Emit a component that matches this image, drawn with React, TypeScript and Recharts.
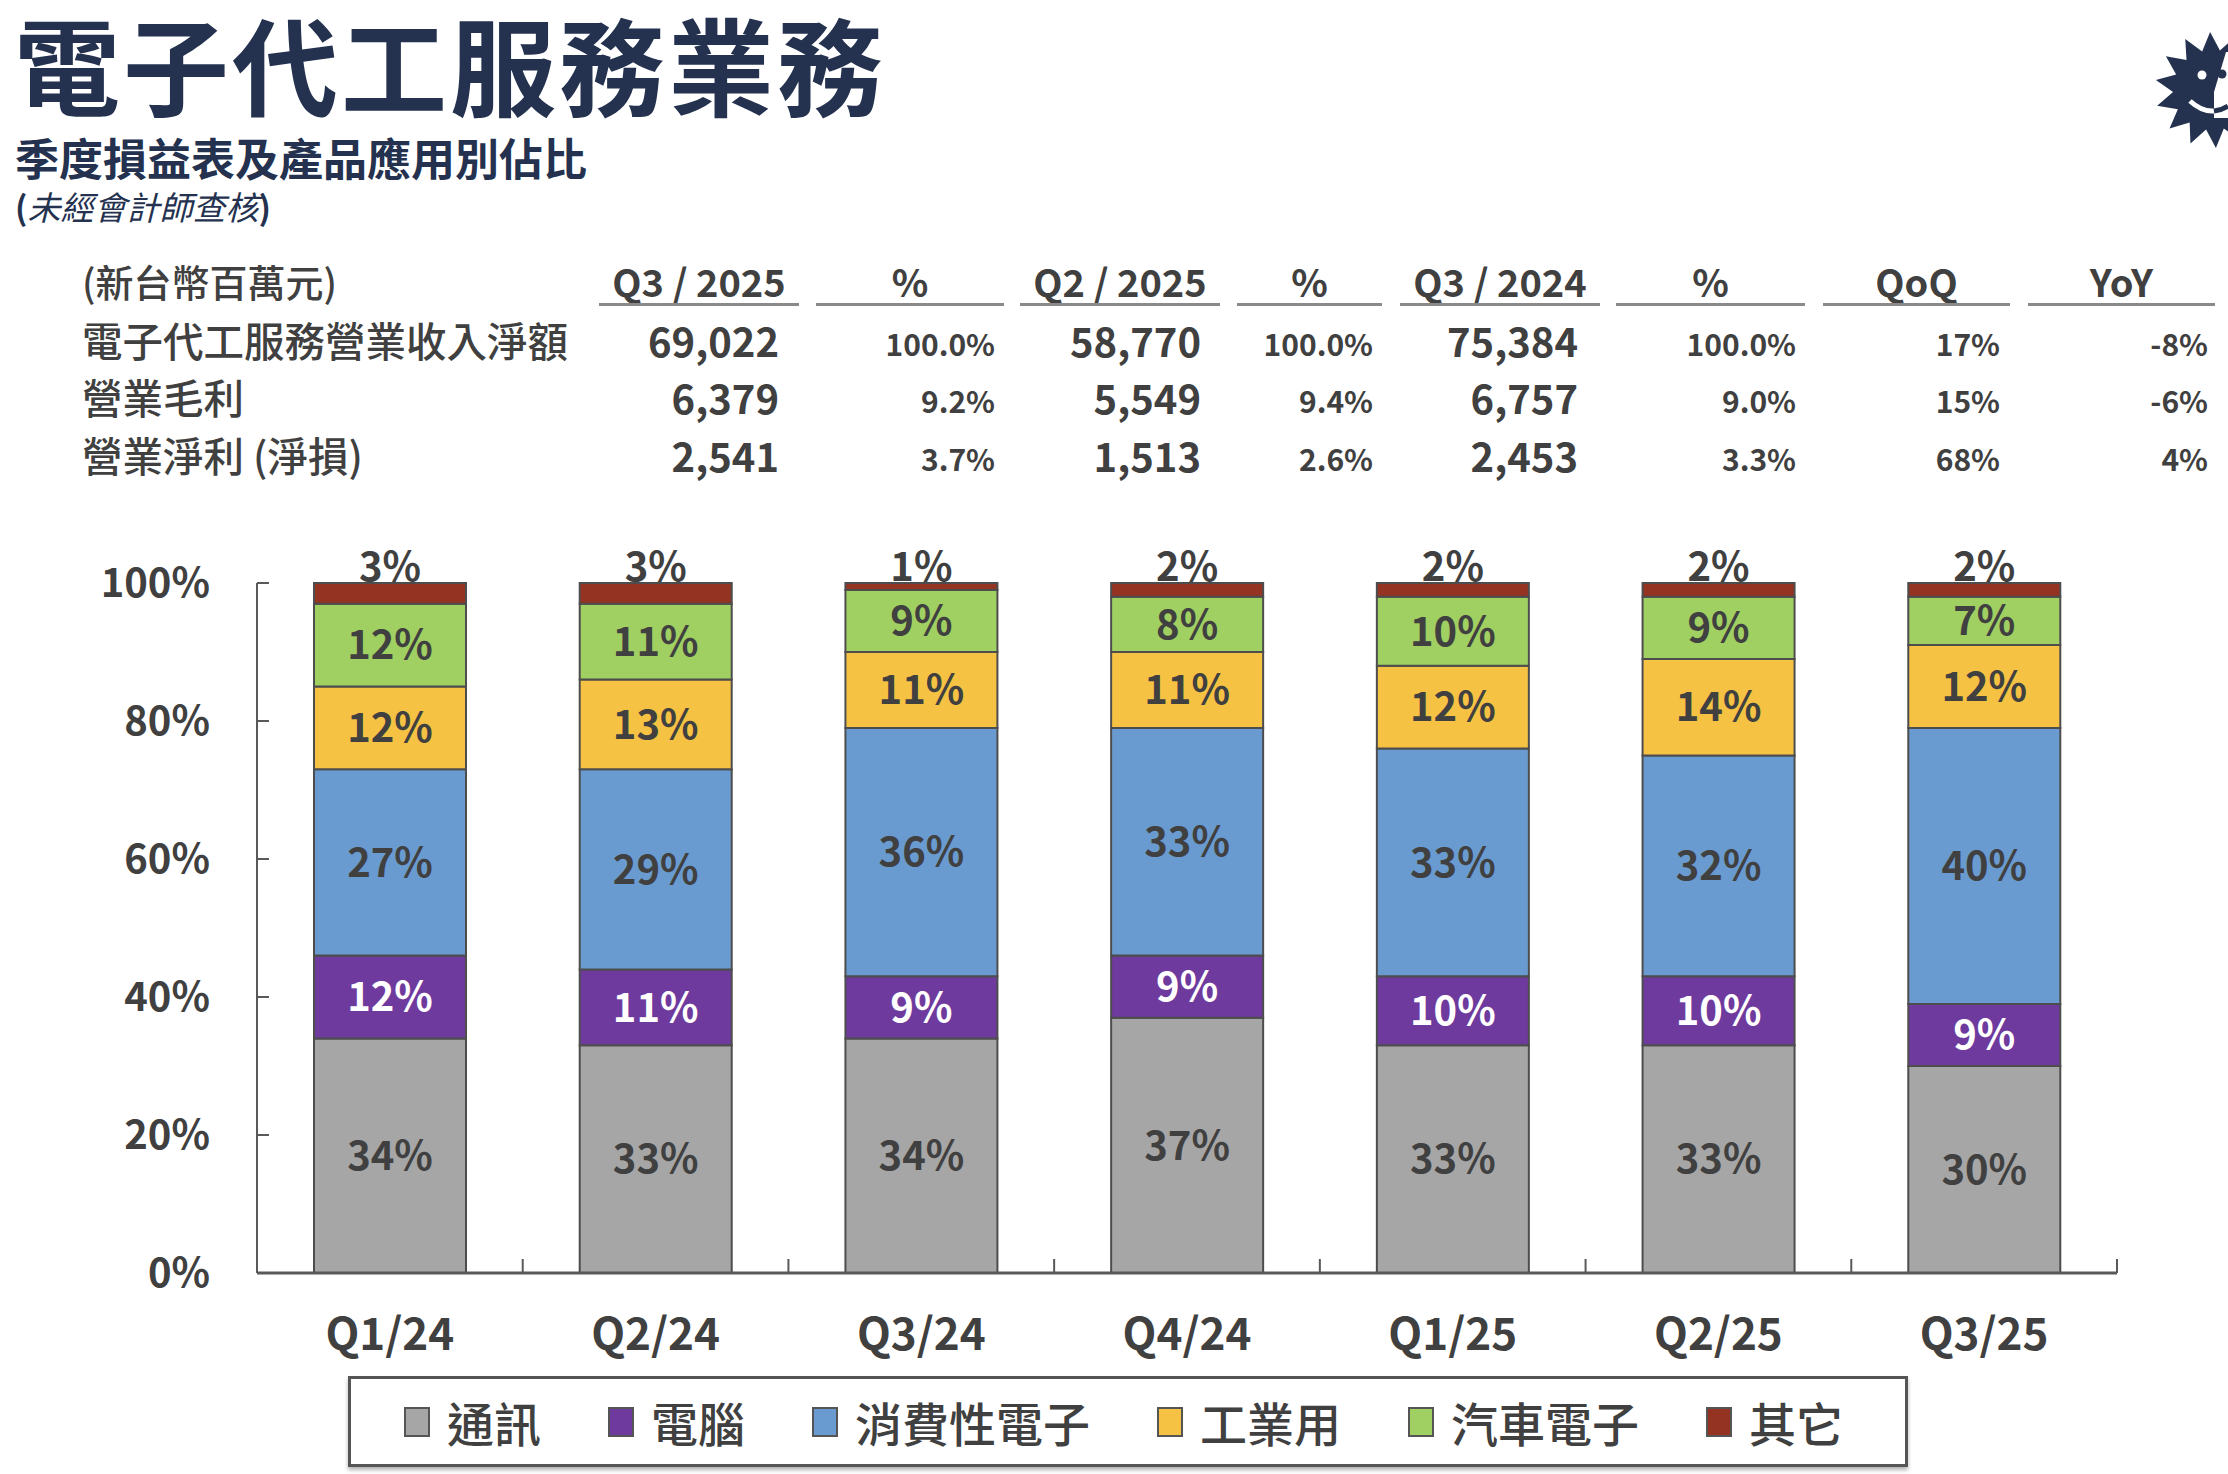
import React from "react";
import { BarChart, Bar, XAxis, YAxis, LabelList } from "recharts";

// product mix by quarter (% of EMS revenue), bottom to top of each stack
const quarters = ["Q1/24", "Q2/24", "Q3/24", "Q4/24", "Q1/25", "Q2/25", "Q3/25"];
const telecom = [34, 33, 34, 37, 33, 33, 30];
const computer = [12, 11, 9, 9, 10, 10, 9];
const consumer = [27, 29, 36, 33, 33, 32, 40];
const industrial = [12, 13, 11, 11, 12, 14, 12];
const automotive = [12, 11, 9, 8, 10, 9, 7];
const others = [3, 3, 1, 2, 2, 2, 2];

const seriesKeys = ["telecom", "computer", "consumer", "industrial", "automotive", "others"];
const seriesNames = ["通訊", "電腦", "消費性電子", "工業用", "汽車電子", "其它"];
const seriesColors = ["#A6A6A6", "#6E3A9E", "#6A9BD0", "#F6C243", "#A0CF62", "#953322"];
const seriesValues = [telecom, computer, consumer, industrial, automotive, others];

const yTicks = [0, 20, 40, 60, 80, 100];

// quarterly P&L table
const unitLabel = "(新台幣百萬元)";
const tableHeaders = ["Q3 / 2025", "%", "Q2 / 2025", "%", "Q3 / 2024", "%", "QoQ", "YoY"];
const rowLabels = ["電子代工服務營業收入淨額", "營業毛利", "營業淨利 (淨損)"];
const revenueRow = ["69,022", "100.0%", "58,770", "100.0%", "75,384", "100.0%", "17%", "-8%"];
const grossProfitRow = ["6,379", "9.2%", "5,549", "9.4%", "6,757", "9.0%", "15%", "-6%"];
const operatingIncomeRow = ["2,541", "3.7%", "1,513", "2.6%", "2,453", "3.3%", "68%", "4%"];
const tableRows = [revenueRow, grossProfitRow, operatingIncomeRow];

const FONT = "'Noto Sans CJK TC', 'Noto Sans', sans-serif";
const NAVY = "#24324F";
const TEXT = "#404040";
const AXIS = "#595959";

// column frames: underline span and right edge of the figures
const columns = [
  { l: 599, r: 799, textR: 779 },
  { l: 816, r: 1004, textR: 995 },
  { l: 1020, r: 1220, textR: 1201 },
  { l: 1237, r: 1382, textR: 1373 },
  { l: 1400, r: 1600, textR: 1578 },
  { l: 1616, r: 1805, textR: 1796 },
  { l: 1823, r: 2010, textR: 2000 },
  { l: 2028, r: 2215, textR: 2208 },
];
const rowY = [340, 397, 455];
const bigCols = [0, 2, 4];

const X_TICK_MARGIN = 46;

const data = quarters.map((quarter, i) => {
  const row: Record<string, string | number> = { quarter };
  seriesKeys.forEach((k, s) => {
    row[k] = seriesValues[s][i];
  });
  return row;
});

// quarter label plus the short upward marks between categories
const QuarterTick = (props: any) => {
  const { x, y, payload, index, visibleTicksCount, width } = props;
  const half = payload && payload.offset ? payload.offset : width / visibleTicksCount / 2;
  const axisY = y - X_TICK_MARGIN;
  return (
    <g>
      <line x1={x - half} x2={x - half} y1={axisY} y2={axisY - 14} stroke={AXIS} strokeWidth={2} />
      {index === visibleTicksCount - 1 && (
        <line x1={x + half} x2={x + half} y1={axisY} y2={axisY - 14} stroke={AXIS} strokeWidth={2} />
      )}
      <text x={x} y={y} dy="0.71em" textAnchor="middle" fill={TEXT} fontSize={44} fontWeight={700}>
        {payload.value}
      </text>
    </g>
  );
};

const Logo = () => (
  <svg width={90} height={140} style={{ position: "absolute", left: 2138, top: 20 }} viewBox="2138 20 90 140">
    <polygon
      fill={NAVY}
      points={Array.from({ length: 28 }, (_, i) => {
        const a = (Math.PI * 2 * i) / 28 - Math.PI / 2 - 0.05;
        const r = i % 2 === 0 ? 58 : 40;
        return `${2213 + r * Math.cos(a)},${90 + r * Math.sin(a)}`;
      }).join(" ")}
    />
    <polygon fill="#ffffff" points="2226,52 2228,52 2228,118 2214,118 2214,92" />
    <circle cx={2202} cy={75} r={4.5} fill="#ffffff" />
    <circle cx={2222} cy={74} r={4.5} fill={NAVY} />
    <path d="M2190,101 Q2202,112 2214,111" stroke="#ffffff" strokeWidth={5} fill="none" />
    <path d="M2214,111 Q2222,110 2228,106" stroke={NAVY} strokeWidth={5} fill="none" />
  </svg>
);

const Header = () => (
  <>
    <div style={{ position: "absolute", left: 14, top: 0, fontSize: 106, fontWeight: 700, color: NAVY, lineHeight: "124px", letterSpacing: 3, whiteSpace: "nowrap" }}>
      電子代工服務業務
    </div>
    <div style={{ position: "absolute", left: 15, top: 132, fontSize: 44, fontWeight: 700, color: NAVY, lineHeight: "50px", whiteSpace: "nowrap" }}>
      季度損益表及產品應用別佔比
    </div>
    <div style={{ position: "absolute", left: 15, top: 186, fontSize: 33, color: NAVY, lineHeight: "40px", whiteSpace: "nowrap" }}>
      <span style={{ fontWeight: 700 }}>(</span>
      <span style={{ fontStyle: "italic" }}>未經會計師查核</span>
      <span style={{ fontWeight: 700 }}>)</span>
    </div>
  </>
);

const Table = () => (
  <>
    <div style={{ position: "absolute", left: 82, top: 281 - 26, fontSize: 38, fontWeight: 500, color: TEXT, lineHeight: "52px", whiteSpace: "nowrap" }}>
      {unitLabel}
    </div>
    {tableHeaders.map((h, c) => (
      <React.Fragment key={h + c}>
        <div
          style={{
            position: "absolute",
            left: columns[c].l,
            width: columns[c].r - columns[c].l,
            top: 281 - 26,
            textAlign: "center",
            fontSize: 38,
            fontWeight: 700,
            color: TEXT,
            lineHeight: "52px",
            whiteSpace: "nowrap",
          }}
        >
          {h}
        </div>
        <div style={{ position: "absolute", left: columns[c].l, width: columns[c].r - columns[c].l, top: 303, height: 3, background: "#8A8A8A" }} />
      </React.Fragment>
    ))}
    {rowLabels.map((label, r) => (
      <React.Fragment key={label}>
        <div style={{ position: "absolute", left: 82, top: rowY[r] - 26, fontSize: 40.5, fontWeight: 500, color: TEXT, lineHeight: "52px", whiteSpace: "nowrap" }}>
          {label}
        </div>
        {tableRows[r].map((v, c) => (
          <div
            key={c}
            style={{
              position: "absolute",
              left: columns[c].textR - 300,
              width: 300,
              top: rowY[r] - 26 + (bigCols.includes(c) ? 0 : 3),
              textAlign: "right",
              fontSize: bigCols.includes(c) ? 40 : 30,
              fontWeight: 700,
              color: TEXT,
              lineHeight: "52px",
              whiteSpace: "nowrap",
            }}
          >
            {v}
          </div>
        ))}
      </React.Fragment>
    ))}
  </>
);

const Legend = () => (
  <div
    style={{
      position: "absolute",
      left: 348,
      top: 1376,
      width: 1560,
      height: 91,
      boxSizing: "border-box",
      border: "3px solid #555",
      boxShadow: "0 3px 4px rgba(0,0,0,0.3)",
      background: "#fff",
      display: "flex",
      alignItems: "center",
      flexWrap: "nowrap",
      paddingLeft: 53,
    }}
  >
    {seriesNames.map((name, i) => (
      <div key={name} style={{ display: "flex", alignItems: "center", marginRight: 67, flexShrink: 0, whiteSpace: "nowrap" }}>
        <div style={{ width: 26, height: 30, background: seriesColors[i], border: "2px solid #555", boxSizing: "border-box", marginRight: 17, flexShrink: 0 }} />
        <span style={{ fontSize: 47, fontWeight: 500, color: TEXT, lineHeight: "60px" }}>{name}</span>
      </div>
    ))}
  </div>
);

const App = () => {
  return (
    <div style={{ position: "absolute", left: 0, top: 0, width: 2228, height: 1474, background: "#fff", fontFamily: FONT, overflow: "hidden" }}>
      <Header />
      <Logo />
      <Table />
      <div style={{ position: "absolute", left: 0, top: 500 }}>
        <BarChart width={2228} height={875} data={data} margin={{ top: 83, right: 111, bottom: 0, left: 0 }} barSize={152}>
          <XAxis
            dataKey="quarter"
            height={102}
            interval={0}
            tickLine={false}
            tickSize={0}
            tickMargin={X_TICK_MARGIN}
            axisLine={{ stroke: AXIS, strokeWidth: 3 }}
            tick={<QuarterTick />}
          />
          <YAxis
            domain={[0, 100]}
            ticks={yTicks}
            interval={0}
            width={257}
            tickFormatter={(v) => `${v}%`}
            tickSize={-12}
            tickMargin={59}
            axisLine={{ stroke: AXIS, strokeWidth: 2 }}
            tickLine={{ stroke: AXIS, strokeWidth: 2 }}
            tick={{ fill: TEXT, fontSize: 40, fontWeight: 700 }}
          />
          {seriesKeys.map((key, i) => (
            <Bar key={key} dataKey={key} name={seriesNames[i]} stackId="mix" fill={seriesColors[i]} stroke="#4D4D4D" strokeWidth={2} isAnimationActive={false}>
              <LabelList
                dataKey={key}
                position={key === "others" ? "top" : "center"}
                offset={key === "others" ? 2 : 5}
                formatter={(v: number) => `${v}%`}
                fill={key === "computer" ? "#FFFFFF" : TEXT}
                fontSize={40}
                fontWeight={700}
              />
            </Bar>
          ))}
        </BarChart>
      </div>
      <Legend />
    </div>
  );
};

export default App;
